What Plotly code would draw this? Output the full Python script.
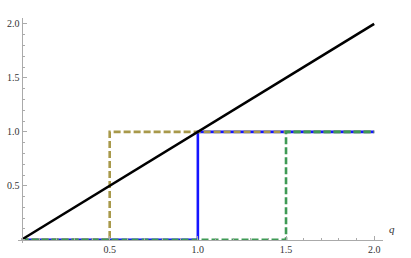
import plotly.graph_objects as go

# Data
line_q = [0, 2]
line_v = [0, 2]

blue_q = [0, 1.0, 1.0, 2.0]
blue_v = [0, 0, 1, 1]

olive_q = [0, 0.5, 0.5, 2.0]
olive_v = [0, 0, 1, 1]

green_q = [0, 1.5, 1.5, 2.0]
green_v = [0, 0, 1, 1]

x_ticks = [0.5, 1.0, 1.5, 2.0]
x_labels = ["0.5", "1.0", "1.5", "2.0"]
y_ticks = [0.5, 1.0, 1.5, 2.0]
y_labels = ["0.5", "1.0", "1.5", "2.0"]

xr = [-0.02, 2.05]
yr = [-0.03, 2.055]

fig = go.Figure()
fig.add_trace(go.Scatter(x=blue_q, y=blue_v, mode="lines",
                         line=dict(color="#1515ff", width=2.6)))
fig.add_trace(go.Scatter(x=olive_q, y=olive_v, mode="lines",
                         line=dict(color="#a8994a", width=2.6, dash="7px,3px")))
fig.add_trace(go.Scatter(x=green_q, y=green_v, mode="lines",
                         line=dict(color="#3f9a55", width=2.6, dash="7px,3px")))
fig.add_trace(go.Scatter(x=line_q, y=line_v, mode="lines",
                         line=dict(color="black", width=2.6)))

serif = "Liberation Serif"
tickfont = dict(family=serif, size=10, color="#333333")

fig.update_layout(
    width=411, height=258,
    margin=dict(l=18, r=28, t=18, b=15, autoexpand=False),
    paper_bgcolor="white", plot_bgcolor="white",
    showlegend=False,
    font=dict(family=serif),
    xaxis=dict(range=xr, anchor="free", position=(0 - yr[0]) / (yr[1] - yr[0]),
               automargin=False,
               showgrid=False, zeroline=False, showline=True,
               linecolor="#aaaaaa", linewidth=1,
               tickvals=x_ticks, ticktext=x_labels, ticks="inside",
               ticklen=4, tickcolor="#aaaaaa", tickfont=tickfont,
               minor=dict(dtick=0.1, tick0=0, ticks="inside", ticklen=2,
                          tickcolor="#aaaaaa", showgrid=False)),
    yaxis=dict(range=yr, anchor="free", position=(0 - xr[0]) / (xr[1] - xr[0]),
               automargin=False,
               showgrid=False, zeroline=False, showline=True,
               linecolor="#aaaaaa", linewidth=1,
               tickvals=y_ticks, ticktext=y_labels, ticks="inside",
               ticklen=4, tickcolor="#aaaaaa", tickfont=tickfont,
               minor=dict(dtick=0.1, tick0=0, ticks="inside", ticklen=2,
                          tickcolor="#aaaaaa", showgrid=False)),
    annotations=[dict(x=(2.13 - xr[0]) / (xr[1] - xr[0]),
                      y=(0.03 - yr[0]) / (yr[1] - yr[0]),
                      xref="paper", yref="paper", text="<i>q</i>",
                      showarrow=False,
                      font=dict(family=serif, size=11, color="#333333"))],
)

fig.write_html("out.html", config={"displayModeBar": False},
               post_script="document.body.style.margin='0';document.body.style.overflow='hidden';")
